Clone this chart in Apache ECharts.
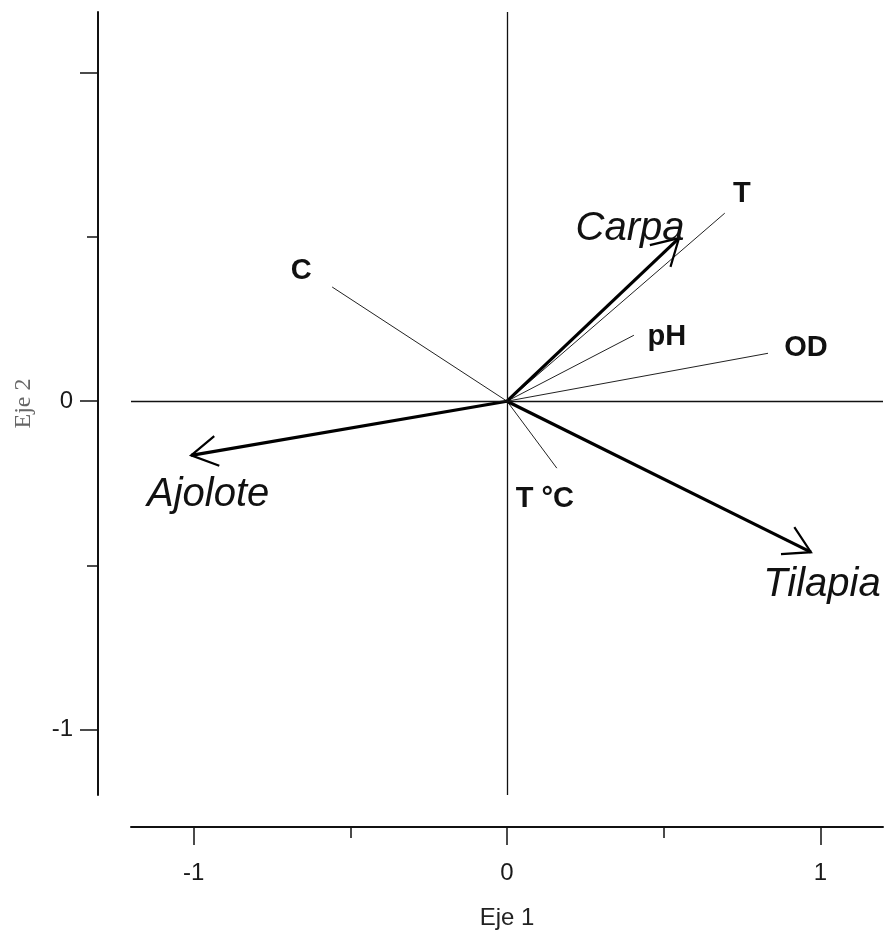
<!DOCTYPE html>
<html>
<head>
<meta charset="utf-8">
<title>Eje 1 / Eje 2</title>
<script src="https://cdn.jsdelivr.net/npm/echarts@6/dist/echarts.min.js"></script>
<style>
  html, body { margin: 0; padding: 0; background: #fff; }
  #chart { width: 884px; height: 932px; }
</style>
</head>
<body>
<div id="chart"></div>
<script>
// Environmental variables (thin vectors, bold labels)
const envNames = ['T', 'pH', 'OD', 'C', 'T °C'];
const envAxis1 = [0.695, 0.405, 0.833, -0.558, 0.159];
const envAxis2 = [0.573, 0.201, 0.146, 0.348, -0.204];

// Species (thick arrows, italic labels)
const speciesNames = ['Carpa', 'Ajolote', 'Tilapia'];
const speciesAxis1 = [0.549, -1.008, 0.970];
const speciesAxis2 = [0.497, -0.165, -0.460];

// Tick marks and labels on both axes
const majorTicks = [-1, 0, 1];
const minorTicks = [-0.5, 0.5];
const xTickLabels = [-1, 0, 1];
const yTickLabels = [-1, 0];

// Label placement relative to the vector tip (pixels)
const envLabelOffset = {
  'T': [17, -19],
  'pH': [33, 2],
  'OD': [38, -5],
  'C': [-31, -16],
  'T °C': [-12, 31]
};
const speciesLabelOffset = {
  'Carpa': [-49, -9],
  'Ajolote': [17, 40],
  'Tilapia': [11, 33]
};

const SANS = '"Liberation Sans", Arial, sans-serif';
const SERIF = '"Liberation Serif", "Times New Roman", serif';

const envData = envNames.map((n, i) => [envAxis1[i], envAxis2[i], i]);
const speciesData = speciesNames.map((n, i) => [speciesAxis1[i], speciesAxis2[i], i]);

const chart = echarts.init(document.getElementById('chart'), null, { renderer: 'canvas' });

function baseAxis(extra) {
  return Object.assign({
    type: 'value',
    splitLine: { show: false },
    axisLine: { show: true, onZero: false, lineStyle: { color: '#111', width: 2 } },
    axisTick: { show: true, inside: false, length: 18, customValues: majorTicks, lineStyle: { color: '#111', width: 1.5 } },
    axisLabel: { show: true, fontFamily: SANS, fontSize: 24, color: '#1a1a1a' }
  }, extra);
}

function minorAxis(extra) {
  return Object.assign({
    type: 'value',
    splitLine: { show: false },
    axisLine: { show: false, onZero: false },
    axisTick: { show: true, inside: false, length: 11, customValues: minorTicks, lineStyle: { color: '#111', width: 1.5 } },
    axisLabel: { show: false }
  }, extra);
}

const option = {
  backgroundColor: '#ffffff',
  animation: false,
  grid: { left: 131, right: 1, top: 12, bottom: 137, containLabel: false, outerBoundsMode: 'none' },
  xAxis: [
    baseAxis({
      min: -1.2, max: 1.2, position: 'bottom', offset: 32,
      axisLabel: { show: true, fontFamily: SANS, fontSize: 24, color: '#1a1a1a', margin: 34, customValues: xTickLabels },
      name: 'Eje 1', nameLocation: 'middle', nameGap: 79,
      nameTextStyle: { fontFamily: SANS, fontSize: 24, color: '#222' }
    }),
    minorAxis({ min: -1.2, max: 1.2, position: 'bottom', offset: 32 })
  ],
  yAxis: [
    baseAxis({
      min: -1.2, max: 1.186, position: 'left', offset: 33,
      axisLabel: { show: true, fontFamily: SANS, fontSize: 24, color: '#1a1a1a', margin: 25, customValues: yTickLabels },
      name: 'Eje 2', nameLocation: 'middle', nameGap: 62, nameRotate: 90,
      nameTextStyle: { fontFamily: SERIF, fontSize: 24, color: '#666' }
    }),
    minorAxis({ min: -1.2, max: 1.186, position: 'left', offset: 33 })
  ],
  series: [
    {
      // reference lines through the origin
      type: 'line',
      data: [],
      markLine: {
        silent: true,
        symbol: ['none', 'none'],
        label: { show: false },
        lineStyle: { color: '#111', width: 1.3, type: 'solid' },
        data: [{ xAxis: 0 }, { yAxis: 0 }]
      }
    },
    {
      type: 'custom',
      coordinateSystem: 'cartesian2d',
      clip: false,
      data: envData,
      renderItem: function (params, api) {
        const o = api.coord([0, 0]);
        const p = api.coord([api.value(0), api.value(1)]);
        const name = envNames[api.value(2)];
        const off = envLabelOffset[name];
        return {
          type: 'group',
          children: [
            { type: 'line', shape: { x1: o[0], y1: o[1], x2: p[0], y2: p[1] },
              style: { stroke: '#222', lineWidth: 1 } },
            { type: 'text', x: p[0] + off[0], y: p[1] + off[1],
              style: { text: name, font: 'bold 29px ' + SANS, fill: '#111',
                       align: 'center', verticalAlign: 'middle' } }
          ]
        };
      }
    },
    {
      type: 'custom',
      coordinateSystem: 'cartesian2d',
      clip: false,
      data: speciesData,
      renderItem: function (params, api) {
        const o = api.coord([0, 0]);
        const p = api.coord([api.value(0), api.value(1)]);
        const name = speciesNames[api.value(2)];
        const off = speciesLabelOffset[name];
        const back = Math.atan2(o[1] - p[1], o[0] - p[0]);
        const L = 30, spread = Math.PI / 6;
        const h1 = [p[0] + L * Math.cos(back + spread), p[1] + L * Math.sin(back + spread)];
        const h2 = [p[0] + L * Math.cos(back - spread), p[1] + L * Math.sin(back - spread)];
        return {
          type: 'group',
          children: [
            { type: 'line', shape: { x1: o[0], y1: o[1], x2: p[0], y2: p[1] },
              style: { stroke: '#000', lineWidth: 3.2 } },
            { type: 'polyline', shape: { points: [h1, p, h2] },
              style: { stroke: '#000', lineWidth: 2.2, fill: null, lineJoin: 'miter' } },
            { type: 'text', x: p[0] + off[0], y: p[1] + off[1],
              style: { text: name, font: 'italic 40px ' + SANS, fill: '#111',
                       align: 'center', verticalAlign: 'middle' } }
          ]
        };
      }
    }
  ]
};

chart.setOption(option);
</script>
</body>
</html>
